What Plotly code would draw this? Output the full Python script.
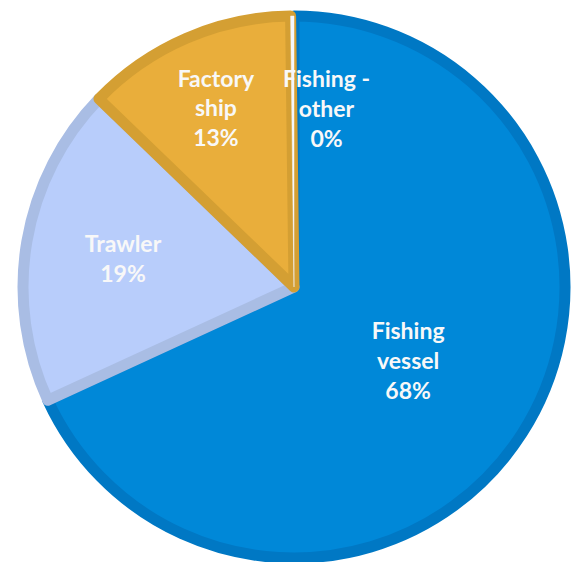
import plotly.graph_objects as go

categories = ["Fishing<br>vessel", "Trawler", "Factory<br>ship", "Fishing -<br>other"]
values = [68.2, 19.1, 12.6, 0.2]

fill_colors = ["#0088d8", "#b8cdfb", "#e9ae3b", "#f4f7fc"]
edge_colors = ["#0078c4", "#a9bde4", "#d49f33", "#f4f7fc"]
edge_widths = [11, 11, 11, 0.5]

total = sum(values)
pct_text = ["%d%%" % round(v / total * 100) for v in values]

W, H = 577, 562
cx, cy, r = 294, 287, 271
font = dict(family="Lato", size=23, color="#f8f8f8", weight="bold")

fig = go.Figure(go.Pie(
    labels=categories,
    values=values,
    sort=False,
    direction="clockwise",
    rotation=0,
    marker=dict(colors=fill_colors, line=dict(color=edge_colors, width=edge_widths)),
    texttemplate=["%{label}<br>%{percent:.0%}", "%{label}<br>%{percent:.0%}",
                  "%{label}<br>%{percent:.0%}", ""],
    textposition="inside",
    insidetextorientation="horizontal",
    textfont=font,
    showlegend=False,
    hoverinfo="label+percent",
    domain=dict(x=[(cx - r) / W, (cx + r) / W], y=[1 - (cy + r) / H, 1 - (cy - r) / H]),
))

fig.add_annotation(
    x=(cx + 32) / W, y=1 - 108 / H, xref="paper", yref="paper",
    xanchor="center", yanchor="middle",
    text=categories[3] + "<br>" + pct_text[3], showarrow=False,
    font=font,
)

fig.update_layout(
    width=W, height=H,
    margin=dict(l=0, r=0, t=0, b=0),
    paper_bgcolor="white", plot_bgcolor="white",
)
fig.write_html("out.html")
